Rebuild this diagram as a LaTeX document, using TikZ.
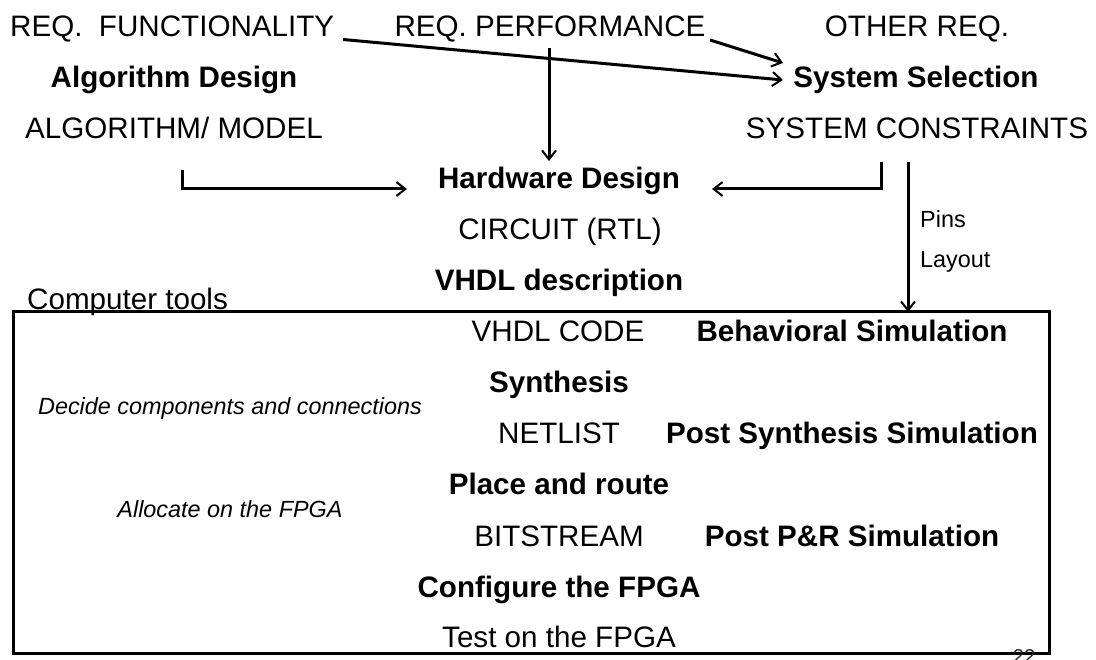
\documentclass[tikz,border=0pt]{standalone}
\usepackage{fontspec}
\setmainfont{Liberation Sans}
\usetikzlibrary{arrows.meta}
\begin{document}
\begin{tikzpicture}[x=1pt,y=-1pt,
  txt/.style={anchor=base,inner sep=0pt,font=\fontsize{29.6}{34}\selectfont},
  head/.style={txt,font=\fontsize{29.6}{34}\selectfont\bfseries},
  note/.style={anchor=base,inner sep=0pt,font=\fontsize{23.4}{28}\selectfont\itshape},
  small/.style={anchor=base west,inner sep=0pt,font=\fontsize{23.4}{28}\selectfont},
  flow/.style={line width=3pt,-{Straight Barb[length=9pt,width=14pt,line width=2pt]}},
  frame/.style={draw,line width=3pt}]
\useasboundingbox (0,0) rectangle (1096,660);

% requirements row
\node[txt,anchor=base west] (rf) at (10,37) {REQ.\ \ FUNCTIONALITY};
\node[txt] (rp) at (550,37) {REQ. PERFORMANCE};
\node[txt] (ro) at (917,37) {OTHER REQ.};

% algorithm and system columns
\node[head] (ad) at (174,87.5) {Algorithm Design};
\node[head] (ss) at (916,87.5) {System Selection};
\node[txt] (am) at (174,138.5) {ALGORITHM/ MODEL};
\node[txt] (sc) at (917,138.5) {SYSTEM CONSTRAINTS};

% hardware design column
\node[head] (hd) at (559,189) {Hardware Design};
\node[txt] (rtl) at (560,240) {CIRCUIT (RTL)};
\node[head] (vd) at (559,291) {VHDL description};

% tool flow frame
\draw[frame] (13,312) rectangle (1049,653);
\coordinate (boxtop) at (908,312);
\node[txt,anchor=base west] (ct) at (27,310) {Computer tools};

\node[txt] (code) at (558,342) {VHDL CODE};
\node[head] (bs) at (852,342) {Behavioral Simulation};
\node[head] (syn) at (559,392.5) {Synthesis};
\node[note] (dc) at (230,415) {Decide components and connections};
\node[txt] (net) at (559,443) {NETLIST};
\node[head] (pss) at (852,443) {Post Synthesis Simulation};
\node[head] (pr) at (559,494.5) {Place and route};
\node[note] (af) at (230,517) {Allocate on the FPGA};
\node[txt] (bit) at (559,546) {BITSTREAM};
\node[head] (prs) at (852,546) {Post P\&R Simulation};
\node[head] (cf) at (559,597) {Configure the FPGA};
\node[txt] (test) at (559,647) {Test on the FPGA};

% pins / layout annotation
\node[small] (pins) at (920,228) {Pins};
\node[small] (lay) at (920,268) {Layout};

% page number, running off the lower edge of the page
\node[anchor=base,inner sep=0pt,font=\fontsize{20}{24}\selectfont,text=black!85] (pg) at (1024,663) {22};

% connectors
\coordinate (f0) at (343,39.5);
\coordinate (p0) at (710,40);
\coordinate (ssin1) at (783,63);
\coordinate (ssin2) at (783,80);
\draw[flow] (f0) -- (ssin2);
\draw[flow] (p0) -- (ssin1);

\coordinate (pv0) at (549,48);
\coordinate (pv1) at (549,161);
\draw[flow] (pv0) -- (pv1);

\coordinate (a0) at (182,170);
\coordinate (a1) at (182,189);
\coordinate (hdl) at (407,189);
\draw[flow] (a0) -- (a1) -- (hdl);

\coordinate (s0) at (881,162);
\coordinate (s1) at (881,189);
\coordinate (hdr) at (712,189);
\draw[flow] (s0) -- (s1) -- (hdr);

\coordinate (pl0) at (908,162);
\draw[flow] (pl0) -- (boxtop);
\end{tikzpicture}
\end{document}
